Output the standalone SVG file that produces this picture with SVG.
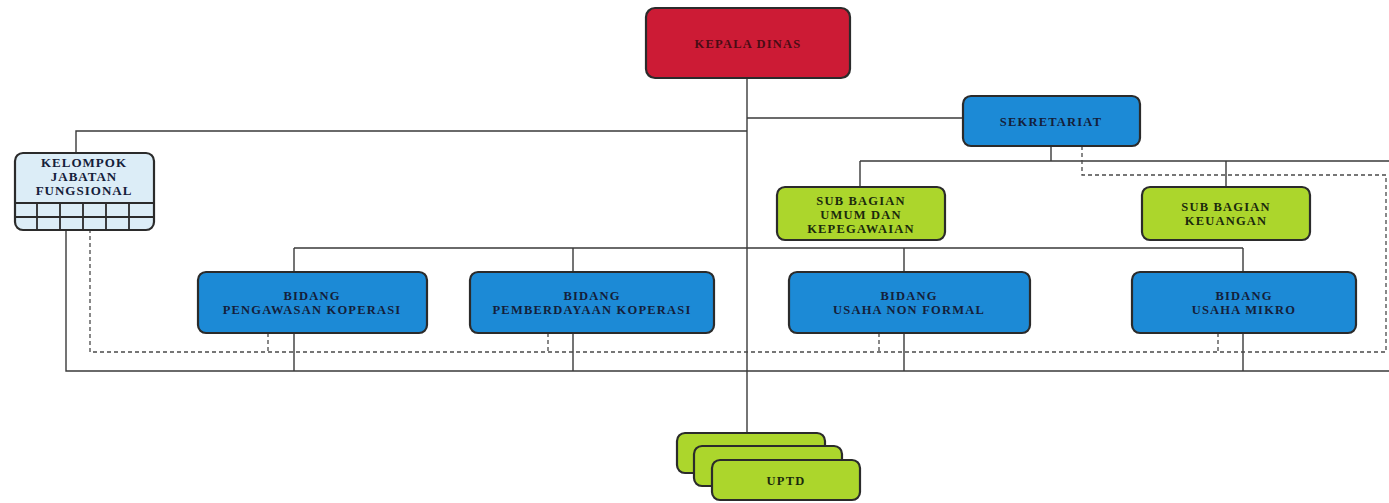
<svg xmlns="http://www.w3.org/2000/svg" width="1389" height="503" viewBox="0 0 1389 503">
<style>
.box{stroke:#2b2b2b;stroke-width:2.2}
.red{fill:#cc1b35}
.blue{fill:#1c8ad6}
.green{fill:#acd62c}
.lb{fill:#dcedf7}
.t{font-family:"Liberation Serif",serif;font-weight:bold;font-size:12.5px;text-anchor:middle;letter-spacing:1.2px}
.tb{fill:#14203a}
.tg{fill:#1b2a0c}
.tr{fill:#4a0c14;font-size:12.5px}
.tk{font-size:13px;letter-spacing:1px}
.ln{fill:none;stroke:#3a3a3a;stroke-width:1.4}
.dl{fill:none;stroke:#4a4a4a;stroke-width:1.3;stroke-dasharray:4 3}
.grid{fill:none;stroke:#2b2b2b;stroke-width:1.8}
</style>
<g id="connectors">
<path class="ln" d="M747 78V433"/>
<path class="ln" d="M747 118H963"/>
<path class="ln" d="M747 131H76V153"/>
<path class="ln" d="M1051 146V161M860 161H1389M860 161V187M1226 161V187"/>
<path class="ln" d="M294 248H1243M294 248V272M573 248V272M904 248V272M1243 248V272"/>
<path class="ln" d="M66 230V371H1389M294 333V371M573 333V371M904 333V371M1243 333V371"/>
<path class="dl" d="M1082 146V175H1386V352H90V230"/>
<path class="dl" d="M268 333V352M548 333V352M879 333V352M1218 333V352"/>
</g>
<g id="kepala-dinas">
<rect class="box red" x="646" y="8" width="204" height="70" rx="9"/>
<text class="t tr" x="748" y="48">KEPALA DINAS</text>
</g>
<g id="sekretariat">
<rect class="box blue" x="963" y="96" width="177" height="50" rx="8"/>
<text class="t tb" x="1051" y="126">SEKRETARIAT</text>
</g>
<g id="kelompok-jabatan-fungsional">
<rect class="box lb" x="15" y="153" width="139" height="77" rx="8"/>
<path class="grid" d="M15 203H154M15 217H154M37 203V230M60 203V230M83 203V230M106 203V230M129 203V230"/>
<text class="t tb tk" x="84" y="167">KELOMPOK</text>
<text class="t tb tk" x="84" y="181">JABATAN</text>
<text class="t tb tk" x="84" y="195">FUNGSIONAL</text>
</g>
<g id="sub-bagian-umum">
<rect class="box green" x="777" y="187" width="168" height="53" rx="8"/>
<text class="t tg" x="861" y="205">SUB BAGIAN</text>
<text class="t tg" x="861" y="219">UMUM DAN</text>
<text class="t tg" x="861" y="233">KEPEGAWAIAN</text>
</g>
<g id="sub-bagian-keuangan">
<rect class="box green" x="1142" y="187" width="168" height="53" rx="8"/>
<text class="t tg" x="1226" y="211">SUB BAGIAN</text>
<text class="t tg" x="1226" y="225">KEUANGAN</text>
</g>
<g id="bidang-pengawasan">
<rect class="box blue" x="198" y="272" width="229" height="61" rx="8"/>
<text class="t tb" x="312" y="300">BIDANG</text>
<text class="t tb" x="312" y="314">PENGAWASAN KOPERASI</text>
</g>
<g id="bidang-pemberdayaan">
<rect class="box blue" x="470" y="272" width="244" height="61" rx="8"/>
<text class="t tb" x="592" y="300">BIDANG</text>
<text class="t tb" x="592" y="314">PEMBERDAYAAN KOPERASI</text>
</g>
<g id="bidang-usaha-non-formal">
<rect class="box blue" x="789" y="272" width="241" height="61" rx="8"/>
<text class="t tb" x="909" y="300">BIDANG</text>
<text class="t tb" x="909" y="314">USAHA NON FORMAL</text>
</g>
<g id="bidang-usaha-mikro">
<rect class="box blue" x="1132" y="272" width="224" height="61" rx="8"/>
<text class="t tb" x="1244" y="300">BIDANG</text>
<text class="t tb" x="1244" y="314">USAHA MIKRO</text>
</g>
<g id="uptd">
<rect class="box green" x="677" y="433" width="148" height="40" rx="8"/>
<rect class="box green" x="694" y="446" width="148" height="40" rx="8"/>
<rect class="box green" x="712" y="460" width="148" height="40" rx="8"/>
<text class="t tg" x="786" y="485">UPTD</text>
</g>
</svg>
